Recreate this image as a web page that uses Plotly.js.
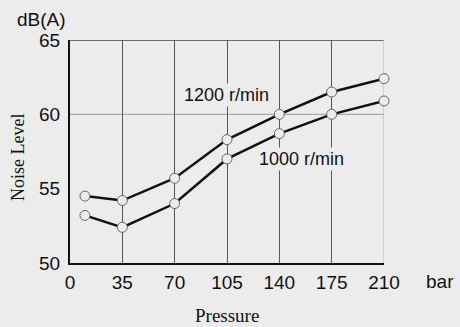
<!DOCTYPE html>
<html>
<head>
<meta charset="utf-8">
<script src="https://cdn.plot.ly/plotly-3.0.1.min.js"></script>
<style>
html,body{margin:0;padding:0;background:#ececec;}
#chart{width:460px;height:327px;}
</style>
</head>
<body>
<div id="chart"></div>
<script>
var pressure = [10, 35, 70, 105, 140, 175, 210];
var noise1200 = [54.5, 54.2, 55.7, 58.3, 60.0, 61.5, 62.4];
var noise1000 = [53.2, 52.4, 54.0, 57.0, 58.7, 60.0, 60.9];
var xTicks = [0, 35, 70, 105, 140, 175, 210];
var yTicks = [50, 55, 60, 65];
var seriesNames = ["1200 r/min", "1000 r/min"];

var bg = '#ececec';
var markerStyle = {symbol: 'circle', size: 10, color: bg, line: {color: '#666', width: 1}};

var traces = [
  {x: pressure, y: noise1200, mode: 'lines+markers', name: seriesNames[0],
   line: {color: '#111', width: 2.5}, marker: markerStyle, cliponaxis: false},
  {x: pressure, y: noise1000, mode: 'lines+markers', name: seriesNames[1],
   line: {color: '#111', width: 2.5}, marker: markerStyle, cliponaxis: false}
];

var tickFont = {family: 'Liberation Sans, Arial, sans-serif', size: 19, color: '#111'};
var labelFont = {family: 'Liberation Sans, Arial, sans-serif', size: 18, color: '#111'};
var serifFont = {family: 'Liberation Serif, Times New Roman, serif', size: 18, color: '#111'};

var layout = {
  width: 460, height: 327,
  paper_bgcolor: bg, plot_bgcolor: bg,
  margin: {l: 70, r: 76, t: 40, b: 64},
  showlegend: false,
  xaxis: {
    range: [0, 210], tickvals: xTicks, ticktext: xTicks.map(String),
    showgrid: true, gridcolor: '#555', gridwidth: 1,
    zeroline: false, showline: true, linecolor: '#111', linewidth: 2,
    ticks: '', tickfont: tickFont, ticklabelstandoff: 1
  },
  yaxis: {
    range: [50, 65], tickvals: yTicks, ticktext: yTicks.map(String),
    showgrid: false, zeroline: false, showline: true, linecolor: '#111', linewidth: 2,
    ticks: '', tickfont: tickFont, ticklabelstandoff: 4
  },
  shapes: [
    {type: 'line', xref: 'paper', yref: 'y', x0: 0, x1: 1, y0: 60, y1: 60, line: {color: '#999', width: 1}, layer: 'below'},
    {type: 'line', xref: 'paper', yref: 'y', x0: 0, x1: 1, y0: 65, y1: 65, line: {color: '#444', width: 1.5}, layer: 'below'},
    {type: 'line', xref: 'x', yref: 'paper', x0: 210, x1: 210, y0: 0, y1: 1, line: {color: '#bbb', width: 1.2}, layer: 'below'}
  ],
  annotations: [
    {text: seriesNames[0], x: 104.5, y: 61.3, xref: 'x', yref: 'y', showarrow: false,
     font: labelFont, bgcolor: bg, borderpad: 1},
    {text: seriesNames[1], x: 155, y: 57.0, xref: 'x', yref: 'y', showarrow: false,
     font: labelFont, bgcolor: bg, borderpad: 1},
    {text: 'dB(A)', xref: 'paper', yref: 'paper', x: 0, xanchor: 'center', xshift: -29,
     y: 1, yanchor: 'middle', yshift: 21, showarrow: false, font: tickFont},
    {text: 'bar', xref: 'paper', yref: 'paper', x: 1, xanchor: 'center', xshift: 56,
     y: 0, yanchor: 'middle', yshift: -18, showarrow: false, font: tickFont},
    {text: 'Pressure', xref: 'paper', yref: 'paper', x: 0.5, xanchor: 'center',
     y: 0, yanchor: 'middle', yshift: -52, showarrow: false,
     font: {family: serifFont.family, size: 19, color: '#111'}},
    {text: 'Noise Level', xref: 'paper', yref: 'paper', x: 0, xanchor: 'center', xshift: -52,
     y: 0.471, yanchor: 'middle', textangle: -90, showarrow: false, font: serifFont}
  ]
};

Plotly.newPlot('chart', traces, layout, {displayModeBar: false, staticPlot: true});
</script>
</body>
</html>
